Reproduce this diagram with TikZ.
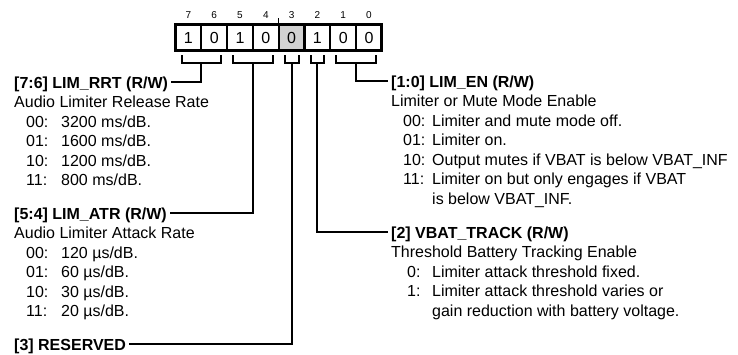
\documentclass[tikz,border=0pt]{standalone}
\usepackage{fontspec}
\setmainfont{Liberation Sans}
\usetikzlibrary{positioning}
\newcommand{\valrow}[3]{\hspace*{12pt}\makebox[#1][l]{#2}#3}

\begin{document}
\begin{tikzpicture}[
  x=1pt, y=-1pt,
  bitcell/.style={draw, line width=2.2pt, minimum width=25.8pt, minimum height=26pt,
    inner sep=0pt, outer sep=0pt, font=\fontsize{16}{19}\selectfont},
  bitnum/.style={inner sep=0pt, font=\fontsize{10}{12}\selectfont},
  fieldhead/.style={anchor=base west, inner xsep=3pt, inner ysep=0pt,
    text height=12pt, text depth=0pt, font=\fontsize{16}{19.5}\selectfont\bfseries},
  fielddesc/.style={anchor=base west, inner xsep=3pt, inner ysep=0pt,
    font=\fontsize{16}{19.5}\selectfont},
  link/.style={line width=2pt}
]
\useasboundingbox (0,0) rectangle (738,354);

% register value
\node[bitcell] (c7) at (188.4,37.5) {1};
\node[bitcell, right=0pt of c7] (c6) {0};
\node[bitcell, right=0pt of c6] (c5) {1};
\node[bitcell, right=0pt of c5] (c4) {0};
\node[bitcell, right=0pt of c4, fill=gray!35] (c3) {0};
\node[bitcell, right=0pt of c3] (c2) {1};
\node[bitcell, right=0pt of c2] (c1) {0};
\node[bitcell, right=0pt of c1] (c0) {0};
\draw[line width=3pt] (c7.north west) rectangle (c0.south east);
\draw[line width=1.2pt] (c4.north east) -- ([yshift=6.5pt]c4.north east);

% bit numbers
\node[bitnum, above=6pt of c7] (n7) {7};
\node[bitnum, above=6pt of c6] (n6) {6};
\node[bitnum, above=6pt of c5] (n5) {5};
\node[bitnum, above=6pt of c4] (n4) {4};
\node[bitnum, above=6pt of c3] (n3) {3};
\node[bitnum, above=6pt of c2] (n2) {2};
\node[bitnum, above=6pt of c1] (n1) {1};
\node[bitnum, above=6pt of c0] (n0) {0};

% brackets under the fields
\coordinate (s76) at ([yshift=-12.5pt]c7.south east);
\coordinate (s54) at ([yshift=-12.5pt]c5.south east);
\coordinate (s3) at ([yshift=-12.5pt]c3.south);
\coordinate (s2) at ([yshift=-12.5pt]c2.south);
\coordinate (s10) at ([yshift=-12.5pt]c1.south east);
\draw[link] ([xshift=6pt,yshift=-4.5pt]c7.south west) |- (s76) -| ([xshift=-6pt,yshift=-4.5pt]c6.south east);
\draw[link] ([xshift=6pt,yshift=-4.5pt]c5.south west) |- (s54) -| ([xshift=-6pt,yshift=-4.5pt]c4.south east);
\draw[link] ([xshift=6pt,yshift=-4.5pt]c3.south west) |- (s3) -| ([xshift=-6pt,yshift=-4.5pt]c3.south east);
\draw[link] ([xshift=6pt,yshift=-4.5pt]c2.south west) |- (s2) -| ([xshift=-6pt,yshift=-4.5pt]c2.south east);
\draw[link] ([xshift=6pt,yshift=-4.5pt]c1.south west) |- (s10) -| ([xshift=-6pt,yshift=-4.5pt]c0.south east);

% left fields
\node[fieldhead] (h76) at (11,88) {[7:6] LIM\_RRT (R/W)};
\node[fielddesc] (d76) at ([yshift=-19.5pt]h76.base west) {\begin{tabular}[t]{@{}l@{}}
  Audio Limiter Release Rate\\
  \valrow{35pt}{00:}{3200 ms/dB.}\\
  \valrow{35pt}{01:}{1600 ms/dB.}\\
  \valrow{35pt}{10:}{1200 ms/dB.}\\
  \valrow{35pt}{11:}{800 ms/dB.}
\end{tabular}};

\node[fieldhead] (h54) at (11,219) {[5:4] LIM\_ATR (R/W)};
\node[fielddesc] (d54) at ([yshift=-19.5pt]h54.base west) {\begin{tabular}[t]{@{}l@{}}
  Audio Limiter Attack Rate\\
  \valrow{35pt}{00:}{120 µs/dB.}\\
  \valrow{35pt}{01:}{60 µs/dB.}\\
  \valrow{35pt}{10:}{30 µs/dB.}\\
  \valrow{35pt}{11:}{20 µs/dB.}
\end{tabular}};

\node[fieldhead] (h3) at (11,350) {[3] RESERVED};

% right fields
\node[fieldhead] (h10) at (388,87) {[1:0] LIM\_EN (R/W)};
\node[fielddesc] (d10) at ([yshift=-19.5pt]h10.base west) {\begin{tabular}[t]{@{}l@{}}
  Limiter or Mute Mode Enable\\
  \valrow{29pt}{00:}{Limiter and mute mode off.}\\
  \valrow{29pt}{01:}{Limiter on.}\\
  \valrow{29pt}{10:}{Output mutes if VBAT is below VBAT\_INF}\\
  \valrow{29pt}{11:}{Limiter on but only engages if VBAT}\\
  \valrow{29pt}{}{is below VBAT\_INF.}
\end{tabular}};

\node[fieldhead] (h2) at (388,238) {[2] VBAT\_TRACK (R/W)};
\node[fielddesc] (d2) at ([yshift=-19.5pt]h2.base west) {\begin{tabular}[t]{@{}l@{}}
  Threshold Battery Tracking Enable\\
  \valrow{29pt}{\hspace*{4pt}0:}{Limiter attack threshold fixed.}\\
  \valrow{29pt}{\hspace*{4pt}1:}{Limiter attack threshold varies or}\\
  \valrow{29pt}{}{gain reduction with battery voltage.}
\end{tabular}};

% connectors
\draw[link] (s76) |- (h76.east);
\draw[link] (s54) |- (h54.east);
\draw[link] (s3) |- (h3.east);
\draw[link] (s2) |- (h2.west);
\draw[link] (s10) |- (h10.west);
\end{tikzpicture}
\end{document}
